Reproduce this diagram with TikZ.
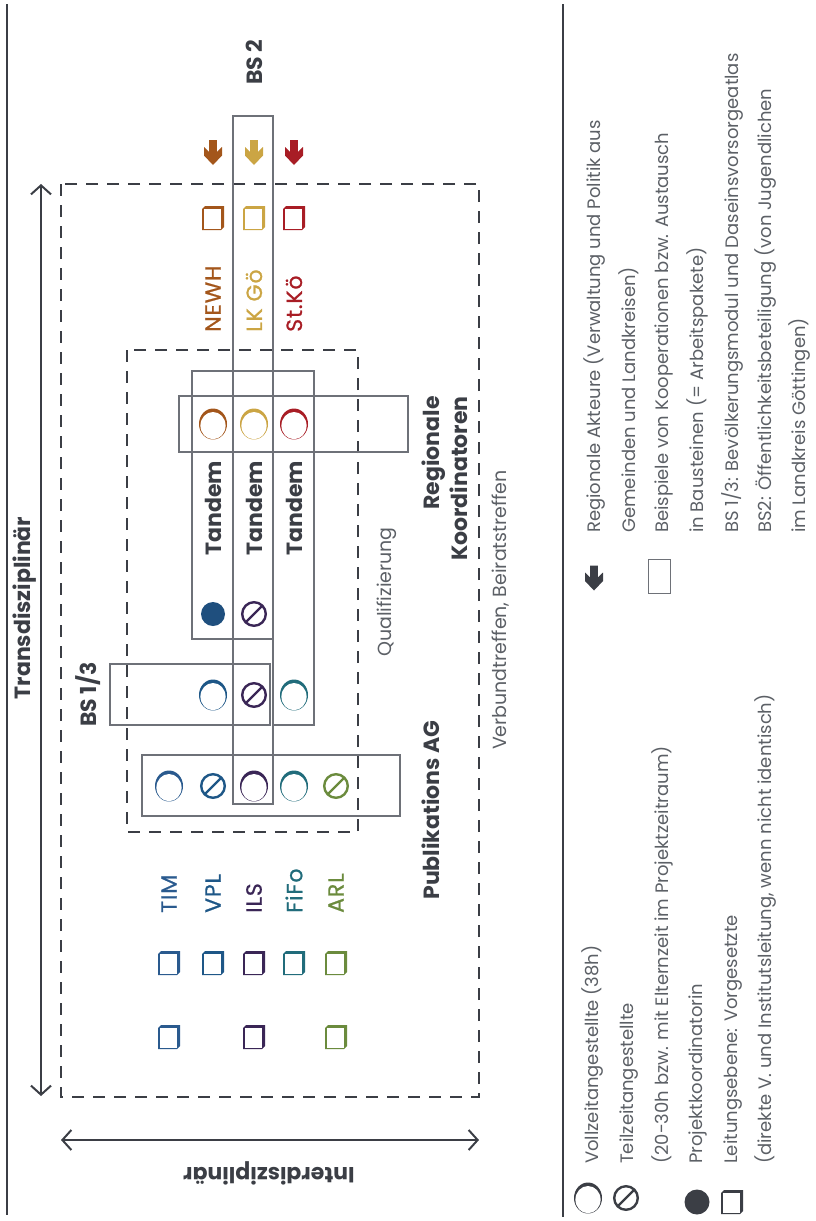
\documentclass[tikz,border=0pt]{standalone}
\usepackage{fontspec}
\setmainfont{Poppins}
\usetikzlibrary{arrows.meta}

\definecolor{ink}{HTML}{3B3E45}
\definecolor{frame}{HTML}{6E7178}
\definecolor{grey}{HTML}{5C6066}
\definecolor{newh}{HTML}{A3561B}
\definecolor{lkgoe}{HTML}{CBA544}
\definecolor{stkoe}{HTML}{A81D25}
\definecolor{tim}{HTML}{2A5A8E}
\definecolor{vpl}{HTML}{1E5787}
\definecolor{koord}{HTML}{1F4F7E}
\definecolor{ils}{HTML}{3A2656}
\definecolor{fifo}{HTML}{216C7B}
\definecolor{arl}{HTML}{6B8B3D}

% icons: x, y, colour
\newcommand{\ringicon}[3]{%
  \fill[#3] (#1,#2) ellipse (14 and 15.5);
  \fill[white] (#1,#2+1.6) ellipse (12.6 and 13.6);}
\newcommand{\slashicon}[3]{%
  \draw[#3,line width=2.4pt] (#1,#2) circle (11.8);
  \draw[#3,line width=2.4pt] (#1-8.3,#2+8.3) -- (#1+8.3,#2-8.3);}
\newcommand{\boxicon}[3]{%
  \fill[#3] (#1-11,#2-9) -- (#1-8,#2-12) -- (#1+11,#2-12) -- (#1+11,#2+9)
    -- (#1+8,#2+12) -- (#1-11,#2+12) -- cycle;
  \fill[white] (#1-9.5,#2-9) rectangle (#1+8,#2+10.5);}
\newcommand{\arrowicon}[3]{%
  \fill[#3] (#1-3.8,#2-12.5) -- (#1+3.8,#2-12.5) -- (#1+3.8,#2-0.5) -- (#1+9,#2-5.5)
    -- (#1+9,#2+3) -- (#1,#2+12.5) -- (#1-9,#2+3) -- (#1-9,#2-5.5) -- (#1-3.8,#2-0.5) -- cycle;}

\begin{document}
\begin{tikzpicture}[x=1pt,y=-1pt,
    lbl/.style={rotate=90,anchor=west,inner sep=0pt,font=\fontsize{22}{26}\selectfont\addfontfeature{LetterSpace=4,FakeBold=0.8}},
    tandem/.style={rotate=90,inner sep=0pt,text=ink,font=\bfseries\fontsize{22}{26}\selectfont},
    heading/.style={rotate=90,inner sep=0pt,text=ink,font=\bfseries\fontsize{22}{28}\selectfont},
    note/.style={rotate=90,inner sep=0pt,text=grey,font=\fontsize{19}{24}\selectfont},
    legendtxt/.style={rotate=90,anchor=base west,inner sep=0pt,text=grey,font=\fontsize{18}{24}\selectfont},
    bsbox/.style={draw=frame,line width=1.2pt},
    dashbox/.style={draw=ink,line width=1.2pt,dash pattern=on 12pt off 9pt},
    axis/.style={draw=ink,line width=2pt,{Straight Barb[length=9pt,width=20pt]}-{Straight Barb[length=9pt,width=20pt]}}]
  \useasboundingbox (0,0) rectangle (816,1221);

  % Frame lines
  \draw[ink,line width=1.5pt] (7,4) -- (7,1215);
  \draw[ink,line width=1.5pt] (563,4) -- (563,1217);

  % Fields
  \draw[dashbox] (61,184) rectangle (479,1097);
  \draw[dashbox] (127,350) rectangle (358,832);

  % Axes
  \coordinate (trans-a) at (41,184);
  \coordinate (trans-b) at (41,1096);
  \coordinate (inter-a) at (61,1140);
  \coordinate (inter-b) at (479,1140);
  \draw[axis] (trans-a) -- (trans-b);
  \draw[axis] (inter-a) -- (inter-b);
  \node[heading] (trans) at (25,608) {Transdisziplinär};
  \node[inner sep=0pt,rotate=180,text=ink,font=\bfseries\fontsize{22}{28}\selectfont] (inter) at (269,1173) {Interdisziplinär};

  % Building blocks
  \draw[bsbox] (233,116) rectangle (273,804);
  \draw[bsbox] (192,371) rectangle (273,639);
  \draw[bsbox] (273,371) rectangle (314,725);
  \draw[bsbox] (179,396) rectangle (408,452);
  \draw[bsbox] (110,664) rectangle (270,725);
  \draw[bsbox] (142,755) rectangle (400,816);
  \node[heading,anchor=west] (bs2) at (254,85) {BS 2};
  \node[heading,anchor=west] (bs13) at (88,727) {BS 1/3};
  \node[heading,align=right,anchor=east] (regko) at (445,396) {Regionale\\Koordinatoren};
  \node[heading] (pubag) at (431,810) {Publikations AG};
  \node[note] (quali) at (387,592) {Qualifizierung};
  \node[note] (treffen) at (501,610) {Verbundtreffen, Beiratstreffen};

  % Regional partners
  \arrowicon{213}{152.5}{newh}
  \arrowicon{254}{152.5}{lkgoe}
  \arrowicon{294}{152.5}{stkoe}
  \boxicon{213}{218}{newh}
  \boxicon{254}{218}{lkgoe}
  \boxicon{294}{218}{stkoe}
  \node[lbl,text=newh] (newh) at (213,332) {NEWH};
  \node[lbl,text=lkgoe] (lkgoe) at (254,332) {LK Gö};
  \node[lbl,text=stkoe] (stkoe) at (294,332) {St.Kö};
  \ringicon{213}{424}{newh}
  \ringicon{254}{424}{lkgoe}
  \ringicon{294}{424}{stkoe}

  % Tandems
  \node[tandem] (tandem1) at (213,508) {Tandem};
  \node[tandem] (tandem2) at (254,508) {Tandem};
  \node[tandem] (tandem3) at (294,508) {Tandem};
  \fill[koord] (213,614) circle (12);
  \slashicon{254}{614}{ils}

  % BS 1/3
  \ringicon{213}{695}{vpl}
  \slashicon{254}{695}{ils}
  \ringicon{294}{695}{fifo}

  % Publikations AG
  \ringicon{169}{786}{tim}
  \slashicon{213}{786}{vpl}
  \ringicon{254}{786}{ils}
  \ringicon{294}{786}{fifo}
  \slashicon{336}{786}{arl}

  % Institutes
  \node[lbl,text=tim] (tim) at (169,913) {TIM};
  \node[lbl,text=vpl] (vpl) at (213,913) {VPL};
  \node[lbl,text=ils] (ils) at (254,913) {ILS};
  \node[lbl,text=fifo] (fifo) at (294,913) {FiFo};
  \node[lbl,text=arl] (arl) at (336,913) {ARL};
  \boxicon{169}{963}{tim}
  \boxicon{213}{963}{vpl}
  \boxicon{254}{963}{ils}
  \boxicon{294}{963}{fifo}
  \boxicon{336}{963}{arl}
  \boxicon{169}{1037}{tim}
  \boxicon{254}{1037}{ils}
  \boxicon{336}{1037}{arl}

  % Legend
  \ringicon{588}{1198}{ink}
  \slashicon{626}{1198}{ink}
  \fill[ink] (697,1202) circle (12.5);
  \boxicon{732}{1202}{ink}
  \arrowicon{594}{578}{ink}
  \draw[frame,line width=1pt] (648,559) rectangle (670,593);
  \node[legendtxt] (leg1) at (598,1164) {Vollzeitangestellte (38h)};
  \node[legendtxt] (leg2) at (633,1164) {Teilzeitangestellte};
  \node[legendtxt] (leg3) at (668,1164) {(20-30h bzw. mit Elternzeit im Projektzeitraum)};
  \node[legendtxt] (leg4) at (702,1164) {Projektkoordinatorin};
  \node[legendtxt] (leg5) at (737,1164) {Leitungsebene: Vorgesetzte};
  \node[legendtxt] (leg6) at (771,1164) {(direkte V. und Institutsleitung, wenn nicht identisch)};
  \node[legendtxt] (leg7) at (600,533) {Regionale Akteure (Verwaltung und Politik aus};
  \node[legendtxt] (leg8) at (635,533) {Gemeinden und Landkreisen)};
  \node[legendtxt] (leg9) at (668,533) {Beispiele von Kooperationen bzw. Austausch};
  \node[legendtxt] (leg10) at (703,533) {in Bausteinen (= Arbeitspakete)};
  \node[legendtxt] (leg11) at (738,533) {BS 1/3: Bevölkerungsmodul und Daseinsvorsorgeatlas};
  \node[legendtxt] (leg12) at (771,533) {BS2: Öffentlichkeitsbeteiligung (von Jugendlichen};
  \node[legendtxt] (leg13) at (805,533) {im Landkreis Göttingen)};
\end{tikzpicture}
\end{document}
